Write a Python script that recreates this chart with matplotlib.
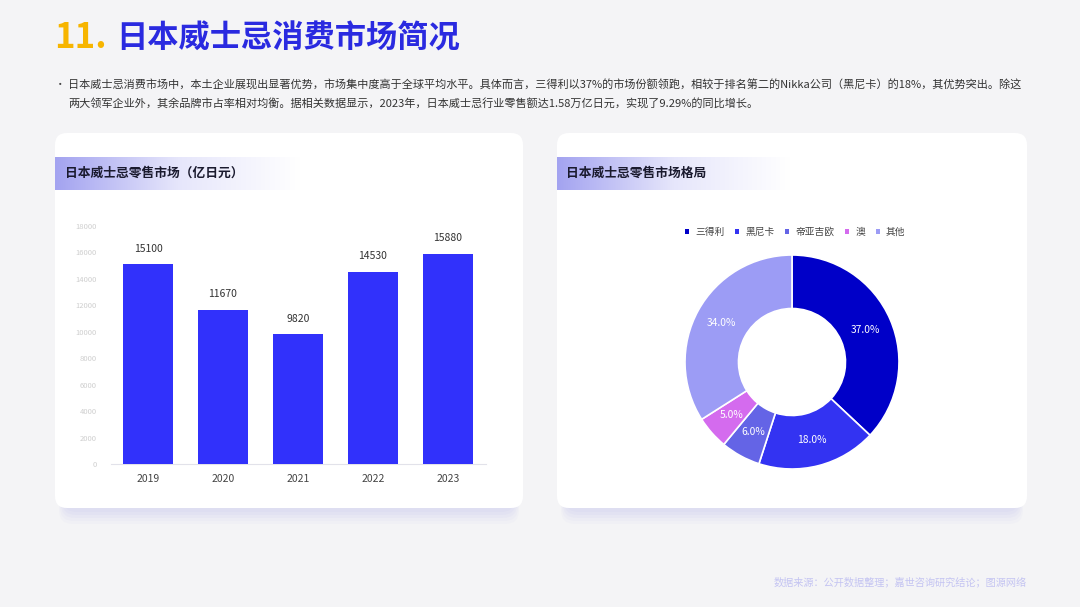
import matplotlib
matplotlib.use("Agg")
import matplotlib.pyplot as plt
import numpy as np
from matplotlib.patches import FancyBboxPatch
from matplotlib.colors import LinearSegmentedColormap

plt.rcParams['font.family'] = ['Noto Sans CJK SC', 'DejaVu Sans']

# ---- data ----
years = ["2019", "2020", "2021", "2022", "2023"]
retail = [15100, 11670, 9820, 14530, 15880]
yticks = [0, 2000, 4000, 6000, 8000, 10000, 12000, 14000, 16000, 18000]

brands = ["三得利", "黑尼卡", "帝亚吉欧", "澳", "其他"]
shares = [37.0, 18.0, 6.0, 5.0, 34.0]
pie_colors = ["#0000C8", "#3333F2", "#6464E6", "#D46BEE", "#9C9CF5"]

title_num = "11."
title_txt = "日本威士忌消费市场简况"
para1 = "日本威士忌消费市场中，本土企业展现出显著优势，市场集中度高于全球平均水平。具体而言，三得利以37%的市场份额领跑，相较于排名第二的Nikka公司（黑尼卡）的18%，其优势突出。除这"
para2 = "两大领军企业外，其余品牌市占率相对均衡。据相关数据显示，2023年，日本威士忌行业零售额达1.58万亿日元，实现了9.29%的同比增长。"
left_title = "日本威士忌零售市场（亿日元）"
right_title = "日本威士忌零售市场格局"
footer = "数据来源：公开数据整理；嘉世咨询研究结论；图源网络"

W, H = 1080, 607
fig = plt.figure(figsize=(W/100, H/100), dpi=100)
fig.patch.set_facecolor("#F4F4F6")

bg = fig.add_axes([0, 0, 1, 1])
bg.set_xlim(0, W)
bg.set_ylim(H, 0)
bg.axis("off")

# title
bg.text(54, 38, title_num, color="#F7B500", fontsize=25, fontweight="black", va="center", ha="left")
bg.text(116, 39, title_txt, color="#2A2AE0", fontsize=22.5, fontweight="black", va="center", ha="left")
bg.text(55, 85, "•", color="#444444", fontsize=7.5, va="center")
bg.text(68, 85, para1, color="#333333", fontsize=8.0, va="center", ha="left")
bg.text(68, 104, para2, color="#333333", fontsize=8.0, va="center", ha="left")

# cards with shadow
def card(x0, x1, y0, y1):
    for i, a in enumerate([0.05, 0.06, 0.07, 0.08, 0.08]):
        off = 16 - i * 3
        sp = FancyBboxPatch((x0 + 4 + i, y0 + off), (x1 - x0 - 8 - 2 * i), (y1 - y0),
                            boxstyle="round,pad=0,rounding_size=14",
                            fc="#B0B0EC", ec="none", alpha=a, zorder=1)
        bg.add_patch(sp)
    p = FancyBboxPatch((x0, y0), x1 - x0, y1 - y0,
                       boxstyle="round,pad=0,rounding_size=12",
                       fc="white", ec="none", zorder=2)
    bg.add_patch(p)

card(55, 523, 133, 508)
card(557, 1027, 133, 508)

# header gradient bars
cmap = LinearSegmentedColormap.from_list("g", ["#A3A3F0", "#E6E6FB", "#FFFFFF"])
grad = np.linspace(0, 1, 256).reshape(1, -1)
bg.imshow(grad, cmap=cmap, extent=[55, 300, 190, 157], aspect="auto", zorder=3)
bg.imshow(grad, cmap=cmap, extent=[557, 790, 190, 157], aspect="auto", zorder=3)
bg.set_xlim(0, W)
bg.set_ylim(H, 0)
bg.text(65, 173, left_title, color="#1A1A2E", fontsize=9.2, fontweight="bold", va="center", zorder=4)
bg.text(566, 173, right_title, color="#1A1A2E", fontsize=9.2, fontweight="bold", va="center", zorder=4)

bg.text(1027, 582, footer, color="#C4C4F2", fontsize=7.3, va="center", ha="right")

# bar chart
ax = fig.add_axes([110.5/W, (H-464)/H, 375/W, (464-226)/H])
ax.set_facecolor("none")
x = np.arange(len(years))
bars = ax.bar(x, retail, width=0.667, color="#3131FB", zorder=3)
ax.set_xlim(-0.5, len(years) - 0.5)
ax.set_ylim(0, 18000)
ax.set_yticks(yticks)
ax.set_yticklabels([str(v) for v in yticks], fontsize=5.5, color="#CFCFCF")
ax.set_xticks(x)
ax.set_xticklabels(years, fontsize=7.5, color="#444444")
ax.tick_params(axis="both", length=0)
ax.tick_params(axis="y", pad=10)
ax.tick_params(axis="x", pad=7)
for s in ["top", "right", "left"]:
    ax.spines[s].set_visible(False)
ax.spines["bottom"].set_color("#E2E2EA")
for xi, v in zip(x, retail):
    ax.text(xi, v + 800, str(v), ha="center", va="bottom", fontsize=7.5, color="#333333")

# donut chart
r = 107
pax = fig.add_axes([(792 - r)/W, (H - 362 - r)/H, 2*r/W, 2*r/H])
wedges, texts, autotexts = pax.pie(
    shares, colors=pie_colors, startangle=90, counterclock=False,
    radius=1, autopct="%.1f%%", pctdistance=0.75,
    wedgeprops=dict(width=0.5, edgecolor="white", linewidth=1.2),
    textprops=dict(color="white", fontsize=7.4))
pax.set_xlim(-1, 1)
pax.set_ylim(-1, 1)
pax.set_aspect("equal")

leg = fig.legend(wedges, brands, loc="center", bbox_to_anchor=(795/W, 1 - 232/H),
                 ncol=5, frameon=False, fontsize=7, handlelength=0.45, handleheight=0.45,
                 handletextpad=0.6, columnspacing=1.1, labelcolor="#444444")
for h in leg.legend_handles:
    h.set_edgecolor("none")

fig.savefig("out.png", dpi=100, facecolor=fig.get_facecolor())
